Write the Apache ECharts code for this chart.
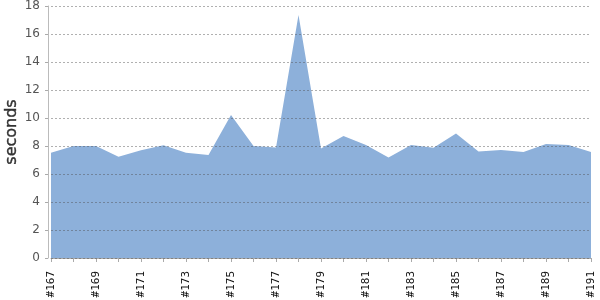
<!DOCTYPE html>
<html><head><meta charset="utf-8">
<script src="https://cdn.jsdelivr.net/npm/echarts@6/dist/echarts.min.js"></script>
<style>html,body{margin:0;padding:0;background:#fff}#c{width:600px;height:300px}</style>
</head><body><div id="c"></div>
<script>
const categories = ['#167','#168','#169','#170','#171','#172','#173','#174','#175','#176','#177','#178','#179','#180','#181','#182','#183','#184','#185','#186','#187','#188','#189','#190','#191'];
const seconds = [7.52, 8.0, 8.0, 7.24, 7.7, 8.05, 7.52, 7.36, 10.21, 8.0, 7.9, 17.36, 7.83, 8.71, 8.07, 7.17, 8.07, 7.88, 8.9, 7.6, 7.71, 7.57, 8.14, 8.07, 7.57];
const yTicks = {min: 0, max: 18, interval: 2};

const chart = echarts.init(document.getElementById('c'));
chart.setOption({
  animation: false,
  grid: {left: 51, right: 9, top: 6, bottom: 42, containLabel: false, outerBoundsMode: 'none'},
  xAxis: {
    type: 'category', data: categories, boundaryGap: false, offset: 5,
    axisLine: {lineStyle: {color: '#aaa'}},
    axisTick: {interval: 0, length: 4, lineStyle: {color: '#aaa'}},
    axisLabel: {interval: 1, rotate: 90, fontFamily: '"DejaVu Sans Mono", monospace', fontSize: 11, color: '#111', margin: 8}
  },
  yAxis: {
    type: 'value', min: yTicks.min, max: yTicks.max, interval: yTicks.interval, offset: 3, z: 5,
    name: 'seconds', nameLocation: 'middle', nameGap: 28, nameMoveOverlap: false,
    nameTextStyle: {fontFamily: 'DejaVu Sans', fontSize: 16, color: '#333', textBorderColor: '#333', textBorderWidth: 0.4},
    axisLine: {show: true, lineStyle: {color: '#bbb'}},
    axisTick: {show: true, length: 3, lineStyle: {color: '#aaa'}},
    axisLabel: {fontFamily: 'DejaVu Sans', fontSize: 12, color: '#555', margin: 8},
    splitLine: {show: true, lineStyle: {color: 'rgba(80,80,80,0.45)', type: [2, 2], width: 1}}
  },
  series: [{
    type: 'line', data: seconds, symbol: 'none', z: 1,
    lineStyle: {width: 0},
    areaStyle: {color: '#8db0da', opacity: 1}
  }]
});
</script></body></html>
